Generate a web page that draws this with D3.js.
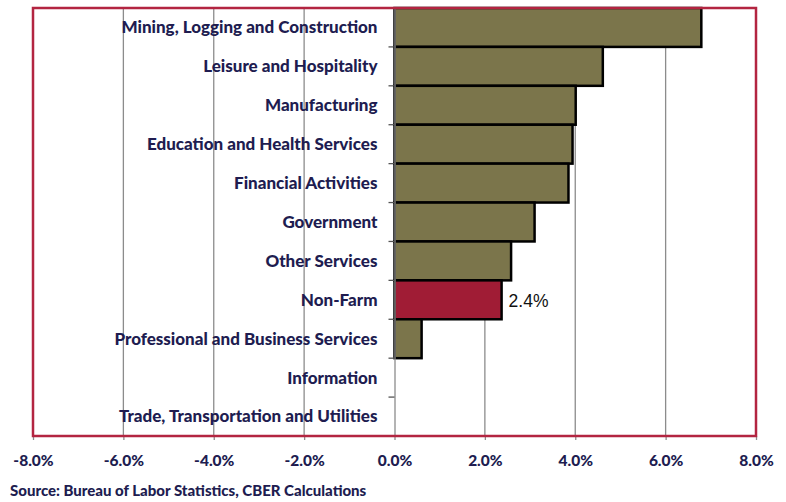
<!DOCTYPE html>
<html>
<head>
<meta charset="utf-8">
<script src="https://cdn.jsdelivr.net/npm/d3@7"></script>
<style>
  body { margin: 0; background: #fff; }
  svg { display: block; }
</style>
</head>
<body>
<svg id="chart" width="786" height="502"></svg>
<script>
'use strict';

// industries, top to bottom
var categories = [
  'Mining, Logging and Construction',
  'Leisure and Hospitality',
  'Manufacturing',
  'Education and Health Services',
  'Financial Activities',
  'Government',
  'Other Services',
  'Non-Farm',
  'Professional and Business Services',
  'Information',
  'Trade, Transportation and Utilities'
];
// percent change
var values = [6.79, 4.61, 4.01, 3.94, 3.85, 3.10, 2.58, 2.37, 0.60, 0, 0];
var tickValues = [-8, -6, -4, -2, 0, 2, 4, 6, 8];
var highlight = 'Non-Farm';
var highlightLabel = '2.4%';
var source = 'Source: Bureau of Labor Statistics, CBER Calculations';

var margin = { top: 8, right: 30, bottom: 66, left: 33 },
    width = 786 - margin.left - margin.right,
    height = 502 - margin.top - margin.bottom;

var colors = {
  bar: '#7b754b',
  hi: '#a01c35',
  border: '#b32541',
  grid: '#8c8c8c',
  text: '#201c50'
};
var fontFamily = 'Lato, "Open Sans", sans-serif';

var svg = d3.select('#chart');
var g = svg.append('g')
  .attr('transform', 'translate(' + margin.left + ',' + margin.top + ')');

var x = d3.scaleLinear().domain([-8, 8]).range([0, width]);
var y = d3.scaleBand().domain(categories).range([0, height]).padding(0);

var data = categories.map(function(c, i) {
  return { name: c, value: values[i] };
});

// vertical gridlines
g.append('g')
  .selectAll('line')
  .data(tickValues.filter(function(t) { return t !== 0 && Math.abs(t) !== 8; }))
  .join('line')
  .attr('x1', function(d) { return x(d); })
  .attr('x2', function(d) { return x(d); })
  .attr('y1', 0)
  .attr('y2', height)
  .attr('stroke', colors.grid)
  .attr('stroke-width', 1.3);

// bottom axis
var xAxis = d3.axisBottom(x)
  .tickValues(tickValues)
  .tickSize(4)
  .tickFormat(function(d) { return d.toFixed(1) + '%'; });

g.append('g')
  .attr('transform', 'translate(0,' + height + ')')
  .call(xAxis)
  .call(function(s) {
    s.select('.domain').remove();
    s.selectAll('.tick line').attr('stroke', colors.grid).attr('stroke-width', 1.3);
    s.selectAll('.tick text')
      .attr('y', 19)
      .attr('dy', '0.71em')
      .style('font-family', fontFamily)
      .style('font-weight', '900')
      .style('font-size', '15.5px')
      .attr('fill', colors.text);
  });

// bars
g.append('g')
  .selectAll('rect')
  .data(data.filter(function(d) { return d.value !== 0; }))
  .join('rect')
  .attr('x', function(d) { return x(Math.min(0, d.value)); })
  .attr('y', function(d) { return y(d.name); })
  .attr('width', function(d) { return Math.abs(x(d.value) - x(0)); })
  .attr('height', y.bandwidth())
  .attr('fill', function(d) { return d.name === highlight ? colors.hi : colors.bar; })
  .attr('stroke', '#000')
  .attr('stroke-width', 2.5);

// zero axis with band ticks
var yAxis = d3.axisLeft(y).tickSize(0).tickFormat('');
g.append('g')
  .attr('transform', 'translate(' + x(0) + ',0)')
  .call(yAxis)
  .call(function(s) {
    s.select('.domain').attr('stroke', colors.grid).attr('stroke-width', 1.3);
  });
g.append('g')
  .selectAll('line')
  .data(d3.range(1, categories.length + 1))
  .join('line')
  .attr('x1', x(0) - 6)
  .attr('x2', x(0))
  .attr('y1', function(i) { return i * y.step(); })
  .attr('y2', function(i) { return i * y.step(); })
  .attr('stroke', '#555')
  .attr('stroke-width', 1.3);

// category labels
g.append('g')
  .selectAll('text')
  .data(data)
  .join('text')
  .attr('x', x(0) - 17)
  .attr('y', function(d) { return y(d.name) + y.bandwidth() / 2; })
  .attr('dy', '0.35em')
  .attr('text-anchor', 'end')
  .style('font-family', fontFamily)
  .style('font-weight', '900')
  .style('font-size', '17px')
  .attr('fill', colors.text)
  .text(function(d) { return d.name; });

// value label
var hi = data.filter(function(d) { return d.name === highlight; })[0];
g.append('text')
  .attr('x', x(hi.value) + 7)
  .attr('y', y(hi.name) + y.bandwidth() / 2 + 1)
  .attr('dy', '0.35em')
  .style('font-family', '"Liberation Sans", Arial, sans-serif')
  .style('font-size', '17.5px')
  .attr('fill', '#111')
  .text(highlightLabel);

// plot border
g.append('rect')
  .attr('x', 0)
  .attr('y', 0)
  .attr('width', width)
  .attr('height', height)
  .attr('fill', 'none')
  .attr('stroke', colors.border)
  .attr('stroke-width', 2.5);

// source note
svg.append('text')
  .attr('x', 10)
  .attr('y', 496)
  .style('font-family', fontFamily)
  .style('font-weight', '900')
  .style('font-size', '15px')
  .attr('fill', colors.text)
  .text(source);
</script>
</body>
</html>
